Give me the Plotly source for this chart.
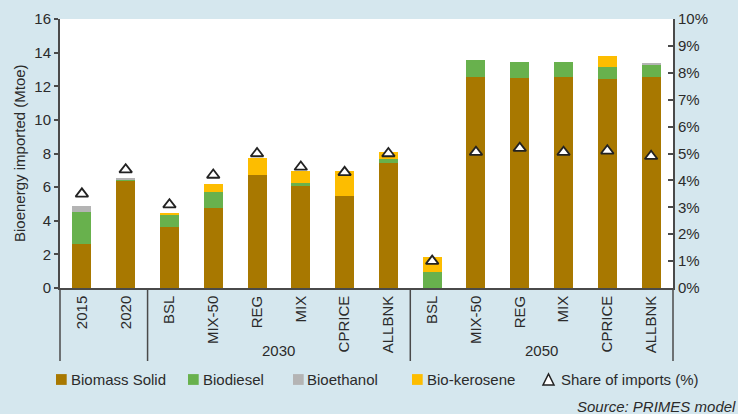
import plotly.graph_objects as go

# -------------------------------
# DATA (Mtoe, share in %)
# -------------------------------
labels = ["2015", "2020", "BSL", "MIX-50", "REG", "MIX", "CPRICE", "ALLBNK",
          "BSL", "MIX-50", "REG", "MIX", "CPRICE", "ALLBNK"]
groups = ["", "", "2030", "2030", "2030", "2030", "2030", "2030",
          "2050", "2050", "2050", "2050", "2050", "2050"]

biomass_solid = [2.6, 6.35, 3.6, 4.73, 6.7, 6.04, 5.5, 7.41, 0.0, 12.53, 12.47, 12.53, 12.41, 12.53]
biodiesel = [1.95, 0.12, 0.77, 1.0, 0.0, 0.18, 0.0, 0.24, 0.98, 1.01, 0.95, 0.89, 0.72, 0.71]
bioethanol = [0.3, 0.07, 0.0, 0.0, 0.0, 0.0, 0.0, 0.0, 0.0, 0.0, 0.0, 0.0, 0.0, 0.12]
bio_kerosene = [0.0, 0.0, 0.12, 0.48, 1.01, 0.71, 1.43, 0.42, 0.84, 0.0, 0.0, 0.0, 0.65, 0.0]
share_imports = [3.5, 4.4, 3.1, 4.2, 5.0, 4.5, 4.3, 5.0, 1.0, 5.05, 5.2, 5.05, 5.1, 4.9]

series = [
    ("Biomass Solid", biomass_solid, "#a87800"),
    ("Biodiesel", biodiesel, "#68b14d"),
    ("Bioethanol", bioethanol, "#b4b4b4"),
    ("Bio-kerosene", bio_kerosene, "#fdbd00"),
]

BG = "#d5e7ee"
AXIS = "#4a4a4a"
TXT = "#2b2b2b"
FONT = "Liberation Sans, Arial, sans-serif"

# plot area in pixels (used to place legend / notes)
W, H = 738, 414
L, R, T, B = 60, 673, 19, 288


def px(x):
    return (x - L) / (R - L)


def py(y):
    return (B - y) / (B - T)


def note(x, y, text, **kw):
    d = dict(x=x, y=y, xref="paper", yref="paper", text=text, showarrow=False,
             xanchor="center", yanchor="middle", font=dict(size=15, color=TXT))
    d.update(kw)
    return d


xs = list(range(len(labels)))

fig = go.Figure()

for name, vals, color in series:
    fig.add_trace(go.Bar(x=xs, y=vals, name=name, marker=dict(color=color, line=dict(width=0)),
                         showlegend=False))

fig.add_trace(go.Scatter(
    x=xs, y=[v / 100 for v in share_imports], yaxis="y2", mode="markers",
    name="Share of imports (%)", showlegend=False,
    marker=dict(symbol="triangle-up", size=11, color="white", line=dict(color="#222222", width=1.8)),
))

# -------------------------------
# GROUP DIVIDERS AND LABELS
# -------------------------------
shapes = []
annotations = []
div_bottom = py(361)
for i in range(1, len(groups)):
    if groups[i] != groups[i - 1]:
        shapes.append(dict(type="line", xref="x", yref="paper", x0=i - 0.5, x1=i - 0.5,
                           y0=0, y1=div_bottom, line=dict(color=AXIS, width=1.5)))
for xe in (0, 1):
    shapes.append(dict(type="line", xref="paper", yref="paper", x0=xe, x1=xe,
                       y0=0, y1=div_bottom, line=dict(color=AXIS, width=1.5)))

for g in dict.fromkeys(groups):
    if not g:
        continue
    idx = [i for i, v in enumerate(groups) if v == g]
    annotations.append(note(sum(idx) / len(idx), py(350), g, xref="x"))

# y axis title
annotations.append(note(px(19), py(153), "Bioenergy imported (Mtoe)", textangle=-90))

# -------------------------------
# LEGEND (manual, to match spacing)
# -------------------------------
leg_y = 379.5
leg_items = [(56, 68.5, series[0]), (188, 200.5, series[1]), (293, 305, series[2]), (412, 424.5, series[3])]
for sx, tx, (name, _, color) in leg_items:
    shapes.append(dict(type="rect", xref="paper", yref="paper",
                       x0=px(sx), x1=px(sx + 10.7), y0=py(leg_y + 5.4), y1=py(leg_y - 5.4),
                       fillcolor=color, line=dict(width=0)))
    annotations.append(note(px(tx), py(leg_y), name, xanchor="left"))

shapes.append(dict(type="path", xref="paper", yref="paper",
                   path=f"M {px(543)},{py(385)} L {px(554)},{py(385)} L {px(548.5)},{py(374)} Z",
                   fillcolor="white", line=dict(color="#222222", width=1.5)))
annotations.append(note(px(558.5), py(leg_y), "Share of imports (%)", xanchor="left"))

annotations.append(note(px(738), py(406), "<i>Source: PRIMES model</i>", xanchor="right"))

fig.update_layout(
    width=W, height=H,
    margin=dict(l=L, r=W - R, t=T, b=H - B, autoexpand=False),
    paper_bgcolor=BG, plot_bgcolor="white",
    barmode="stack", bargap=0.566,
    font=dict(family=FONT, size=15, color=TXT),
    showlegend=False,
    xaxis=dict(range=[-0.5, len(labels) - 0.5], tickvals=xs, ticktext=labels, tickangle=-90,
               showgrid=False, zeroline=False, showline=True, linecolor=AXIS, linewidth=1.5,
               ticks="", tickfont=dict(size=15, color=TXT), automargin=False),
    yaxis=dict(range=[0, 16], dtick=2, showgrid=False, zeroline=False, showline=True,
               linecolor=AXIS, linewidth=2, ticks="outside", ticklen=4, tickcolor=AXIS,
               tickwidth=1.5, tickfont=dict(size=15, color=TXT), automargin=False),
    yaxis2=dict(range=[0, 0.10], dtick=0.01, tickformat=".0%", overlaying="y", side="right",
                showgrid=False, zeroline=False, showline=True, linecolor=AXIS, linewidth=2,
                ticks="inside", ticklen=5, tickcolor=AXIS, tickwidth=1.5, automargin=False,
                tickfont=dict(size=15, color=TXT)),
    shapes=shapes,
    annotations=annotations,
)

# drop the default page margin so the figure sits at the window's corner
fig.write_html("out.html", config={"displayModeBar": False},
               post_script="document.body.style.margin='0';")
